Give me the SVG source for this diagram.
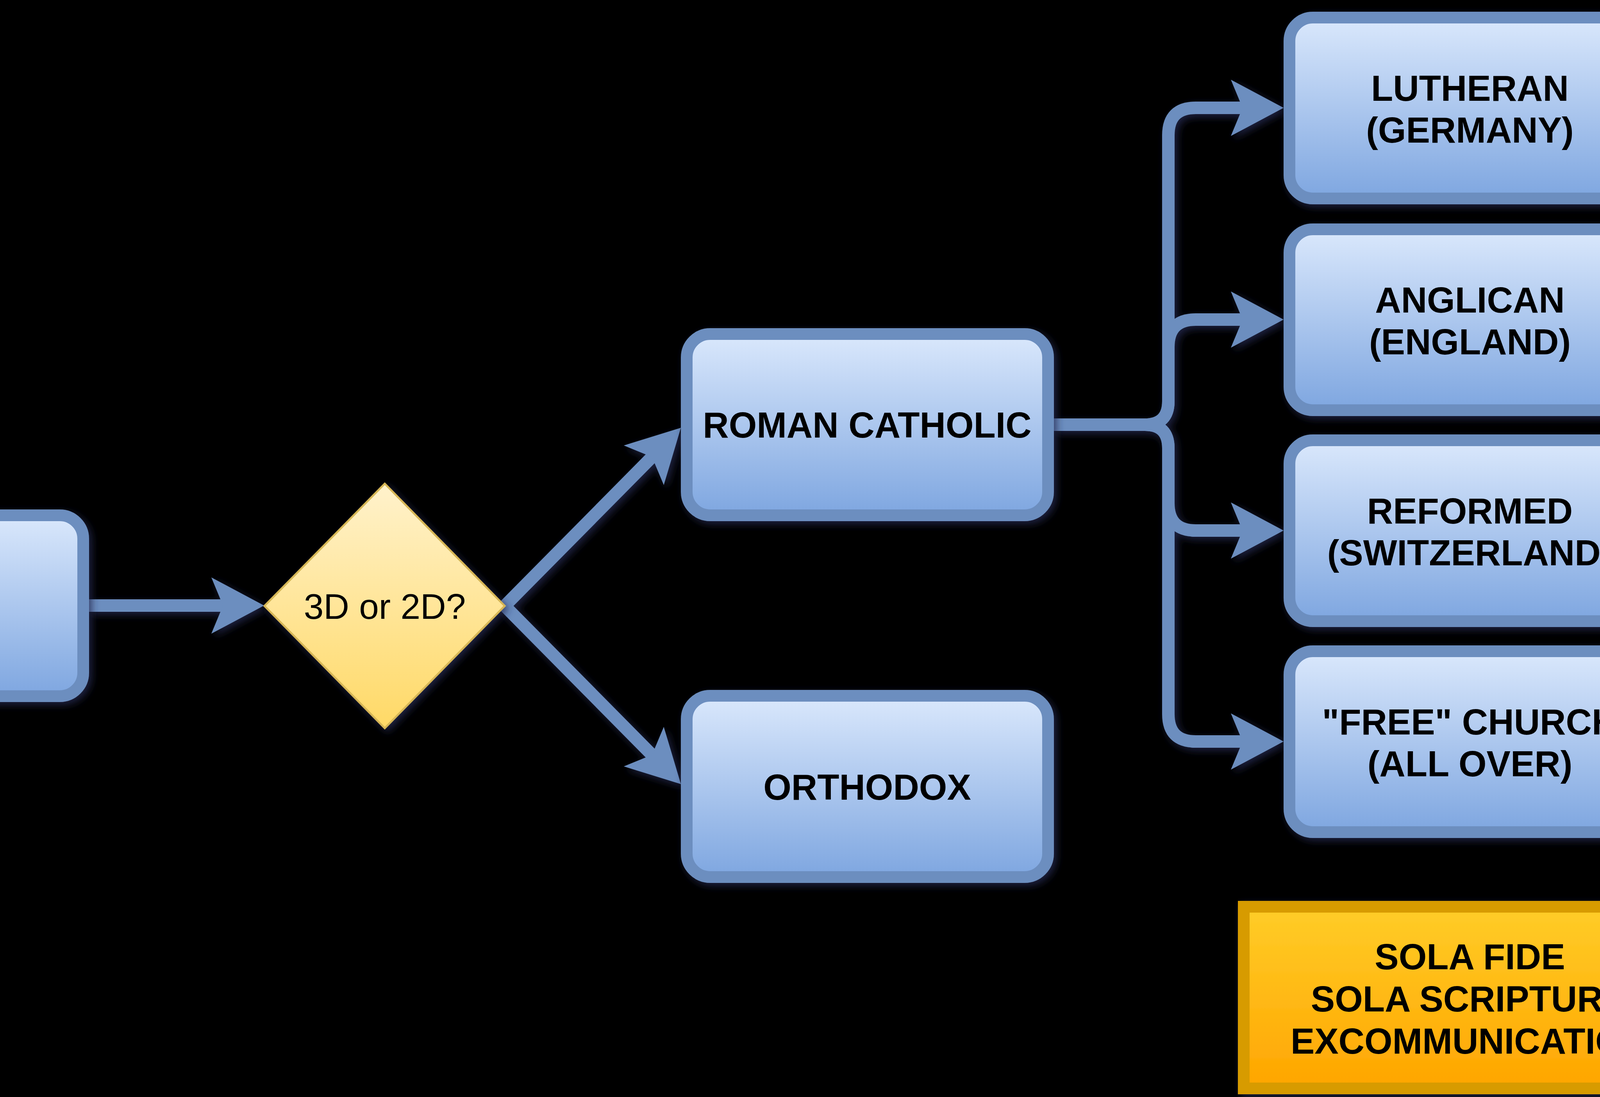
<svg xmlns="http://www.w3.org/2000/svg" width="4480" height="2808" viewBox="0 0 4480 2808">
  <defs>
    <linearGradient id="gBlue" x1="0" y1="0" x2="0" y2="1">
      <stop offset="0" stop-color="#dae8fc"/>
      <stop offset="1" stop-color="#7ea6e0"/>
    </linearGradient>
    <linearGradient id="gYellow" x1="0" y1="0" x2="0" y2="1">
      <stop offset="0" stop-color="#fff2cc"/>
      <stop offset="1" stop-color="#ffd966"/>
    </linearGradient>
    <linearGradient id="gOrange" x1="0" y1="0" x2="0" y2="1">
      <stop offset="0" stop-color="#ffcd28"/>
      <stop offset="1" stop-color="#ffa500"/>
    </linearGradient>
    <filter id="sh" x="-20%" y="-20%" width="140%" height="140%">
      <feGaussianBlur in="SourceAlpha" stdDeviation="10"/>
      <feOffset dx="7" dy="7" result="b"/>
      <feFlood flood-color="#252a52" flood-opacity="0.8"/>
      <feComposite in2="b" operator="in" result="s"/>
      <feMerge>
        <feMergeNode in="s"/>
        <feMergeNode in="SourceGraphic"/>
      </feMerge>
    </filter>
    <marker id="arr" markerUnits="userSpaceOnUse" markerWidth="140" markerHeight="150" viewBox="0 -75 140 150" refX="60" refY="0" orient="auto" overflow="visible">
      <path d="M0,-72 L135,0 L0,72 L30,0 Z" fill="#6c8ebf"/>
    </marker>
    <style>
      .box { fill: url(#gBlue); stroke: #6c8ebf; stroke-width: 30; }
      .dia { fill: url(#gYellow); stroke: #d6b656; stroke-width: 5; }
      .note { fill: url(#gOrange); stroke: #d79b00; stroke-width: 30; }
      .edge { fill: none; stroke: #6c8ebf; stroke-width: 32; marker-end: url(#arr); }
      .lbl { font-family: "Liberation Sans", Arial, Helvetica, sans-serif; font-weight: bold; font-size: 92px; fill: #000; text-anchor: middle; }
      .lblr { font-family: "Liberation Sans", Arial, Helvetica, sans-serif; font-size: 91px; fill: #000; text-anchor: middle; }
    </style>
  </defs>
  <rect x="0" y="0" width="4480" height="2808" fill="#000"/>

  <g id="connectors" filter="url(#sh)">
    <path class="edge" d="M228,1550 H601"/>
    <path class="edge" d="M1292,1551 L1690.3,1148.3"/>
    <path class="edge" d="M1292,1551 L1690.3,1953.7"/>
    <path class="edge" d="M2698,1087 H2931 Q2991,1087 2991,1027 V346 Q2991,276 3061,276 H3211"/>
    <path class="edge" d="M2698,1087 H2931 Q2991,1087 2991,1027 V888 Q2991,818 3061,818 H3211"/>
    <path class="edge" d="M2698,1087 H2931 Q2991,1087 2991,1147 V1288 Q2991,1358 3061,1358 H3211"/>
    <path class="edge" d="M2698,1087 H2931 Q2991,1087 2991,1147 V1828 Q2991,1898 3061,1898 H3211"/>
    <rect x="4227" y="1880" width="270" height="36" fill="#6c8ebf" stroke="#d05050" stroke-width="2"/>
  </g>

  <g id="node-start" filter="url(#sh)">
    <rect class="box" x="-712" y="1319" width="925" height="463" rx="60" ry="60"/>
  </g>

  <g id="node-decision" filter="url(#sh)">
    <polygon class="dia" points="985,1238 1292,1551 985,1864 677,1551"/>
    <text class="lblr" x="985" y="1584">3D or 2D?</text>
  </g>

  <g id="node-roman-catholic" filter="url(#sh)">
    <rect class="box" x="1758" y="855" width="925" height="464" rx="60" ry="60"/>
    <text class="lbl" x="2220" y="1120">ROMAN CATHOLIC</text>
  </g>

  <g id="node-orthodox" filter="url(#sh)">
    <rect class="box" x="1758" y="1781" width="925" height="464" rx="60" ry="60"/>
    <text class="lbl" x="2220" y="2047">ORTHODOX</text>
  </g>

  <g id="node-lutheran" filter="url(#sh)">
    <rect class="box" x="3301" y="45" width="925" height="463" rx="60" ry="60"/>
    <text class="lbl" x="3763" y="258">LUTHERAN</text>
    <text class="lbl" x="3763" y="365">(GERMANY)</text>
  </g>

  <g id="node-anglican" filter="url(#sh)">
    <rect class="box" x="3301" y="587" width="925" height="463" rx="60" ry="60"/>
    <text class="lbl" x="3763" y="800">ANGLICAN</text>
    <text class="lbl" x="3763" y="907">(ENGLAND)</text>
  </g>

  <g id="node-reformed" filter="url(#sh)">
    <rect class="box" x="3301" y="1127" width="925" height="463" rx="60" ry="60"/>
    <text class="lbl" x="3763" y="1340">REFORMED</text>
    <text class="lbl" x="3763" y="1447">(SWITZERLAND)</text>
  </g>

  <g id="node-free-church" filter="url(#sh)">
    <rect class="box" x="3301" y="1667" width="925" height="463" rx="60" ry="60"/>
    <text class="lbl" x="3763" y="1880">"FREE" CHURCH</text>
    <text class="lbl" x="3763" y="1987">(ALL OVER)</text>
  </g>

  <g id="node-sola" filter="url(#sh)">
    <rect class="note" x="3184" y="2321" width="1159" height="465"/>
    <text class="lbl" x="3763" y="2481">SOLA FIDE</text>
    <text class="lbl" x="3763" y="2589">SOLA SCRIPTURA</text>
    <text class="lbl" x="3763" y="2697">EXCOMMUNICATION</text>
  </g>
</svg>
